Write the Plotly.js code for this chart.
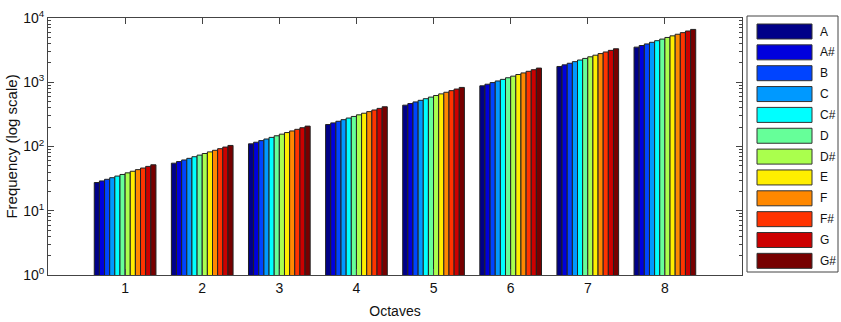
<!DOCTYPE html>
<html>
<head>
<meta charset="utf-8">
<script src="https://cdn.plot.ly/plotly-3.0.1.min.js"></script>
<style>html,body{margin:0;padding:0;background:#fff}#chart{width:841px;height:322px}</style>
</head>
<body>
<div id="chart"></div>
<script>
const octaves = [1, 2, 3, 4, 5, 6, 7, 8];
const notes = ["A", "A#", "B", "C", "C#", "D", "D#", "E", "F", "F#", "G", "G#"];
const colors = ["#000088", "#0000DD", "#0044FF", "#0099FF", "#00FFFF", "#66FF99",
                "#AAFF4D", "#FFEE00", "#FF8800", "#FF3300", "#CC0000", "#770000"];

const freqA  = [27.50, 55.00, 110.00, 220.00, 440.00, 880.00, 1760.00, 3520.00];
const freqAs = [29.14, 58.27, 116.54, 233.08, 466.16, 932.33, 1864.66, 3729.31];
const freqB  = [30.87, 61.74, 123.47, 246.94, 493.88, 987.77, 1975.53, 3951.07];
const freqC  = [32.70, 65.41, 130.81, 261.63, 523.25, 1046.50, 2093.00, 4186.01];
const freqCs = [34.65, 69.30, 138.59, 277.18, 554.37, 1108.73, 2217.46, 4434.92];
const freqD  = [36.71, 73.42, 146.83, 293.66, 587.33, 1174.66, 2349.32, 4698.64];
const freqDs = [38.89, 77.78, 155.56, 311.13, 622.25, 1244.51, 2489.02, 4978.03];
const freqE  = [41.20, 82.41, 164.81, 329.63, 659.26, 1318.51, 2637.02, 5274.04];
const freqF  = [43.65, 87.31, 174.61, 349.23, 698.46, 1396.91, 2793.83, 5587.65];
const freqFs = [46.25, 92.50, 185.00, 369.99, 739.99, 1479.98, 2959.96, 5919.91];
const freqG  = [49.00, 98.00, 196.00, 392.00, 783.99, 1567.98, 3135.96, 6271.93];
const freqGs = [51.91, 103.83, 207.65, 415.30, 830.61, 1661.22, 3322.44, 6644.88];
const series = [freqA, freqAs, freqB, freqC, freqCs, freqD, freqDs, freqE, freqF, freqFs, freqG, freqGs];

const yTickVals = [1, 10, 100, 1000, 10000];
const yTickText = ["10<sup>0</sup>", "10<sup>1</sup>", "10<sup>2</sup>", "10<sup>3</sup>", "10<sup>4</sup>"];

const traces = series.map((vals, i) => ({
  type: "bar",
  name: notes[i],
  x: octaves,
  y: vals,
  marker: { color: colors[i], line: { color: "#222", width: 1 } },
  showlegend: false
}));

// layout geometry (pixels)
const W = 841, H = 322, L = 48, R = 742, T = 18, B = 275;
const pw = R - L, ph = B - T;
const px = v => (v - L) / pw;
const py = v => (B - v) / ph;

const shapes = [];
const annotations = [];
// legend box
shapes.push({ type: "rect", xref: "paper", yref: "paper",
  x0: px(747), x1: px(838), y0: py(272), y1: py(16),
  line: { color: "#444", width: 1 }, fillcolor: "rgba(0,0,0,0)" });
notes.forEach((n, i) => {
  const top = 24 + i * 20.85;
  shapes.push({ type: "rect", xref: "paper", yref: "paper",
    x0: px(757), x1: px(812), y0: py(top + 15), y1: py(top),
    line: { color: "#333", width: 1 }, fillcolor: colors[i] });
  annotations.push({ xref: "paper", yref: "paper", x: px(818), y: py(top + 7.5),
    xanchor: "left", yanchor: "middle", showarrow: false, text: n,
    font: { family: "Liberation Sans, Arial, sans-serif", size: 12, color: "#111" } });
});

const layout = {
  width: W, height: H,
  margin: { l: L, r: W - R, t: T, b: H - B, pad: 0 },
  paper_bgcolor: "#fff", plot_bgcolor: "#fff",
  font: { family: "Liberation Sans, Arial, sans-serif", size: 14, color: "#111" },
  barmode: "group", bargap: 0.2, bargroupgap: 0,
  showlegend: false,
  xaxis: {
    range: [0, 9], tickvals: octaves, ticktext: octaves.map(String),
    ticks: "inside", ticklen: 6, tickcolor: "#444",
    showline: true, linecolor: "#444", linewidth: 1, mirror: "allticks",
    showgrid: false, zeroline: false,
    tickfont: { size: 14 },
    title: { text: "Octaves", font: { size: 14 }, standoff: 11 }
  },
  yaxis: {
    type: "log", range: [0, 4],
    tickvals: yTickVals, ticktext: yTickText,
    ticks: "inside", ticklen: 6, tickcolor: "#444",
    minor: { ticks: "inside", ticklen: 3, tickcolor: "#444", tickwidth: 1, dtick: "D1", showgrid: false },
    showline: true, linecolor: "#444", linewidth: 1, mirror: "allticks",
    showgrid: false, zeroline: false,
    tickfont: { size: 14 },
    title: { text: "Frequency (log scale)", font: { size: 15 }, standoff: 1 }
  },
  shapes: shapes,
  annotations: annotations
};

Plotly.newPlot("chart", traces, layout, { displayModeBar: false, staticPlot: true });
</script>
</body>
</html>
